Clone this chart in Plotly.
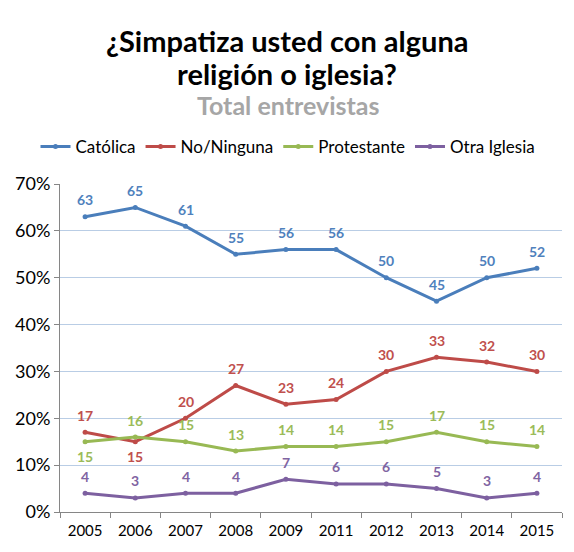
import plotly.graph_objects as go

years = ["2005", "2006", "2007", "2008", "2009", "2011", "2012", "2013", "2014", "2015"]
catolica = [63, 65, 61, 55, 56, 56, 50, 45, 50, 52]
ninguna = [17, 15, 20, 27, 23, 24, 30, 33, 32, 30]
protestante = [15, 16, 15, 13, 14, 14, 15, 17, 15, 14]
otra = [4, 3, 4, 4, 7, 6, 6, 5, 3, 4]

# 1 = label above the point, -1 = below
series = [
    ("Católica", catolica, "#4A7EBB", "#4F81BD", [1] * 10),
    ("No/Ninguna", ninguna, "#BE4B48", "#C0504D", [1, -1] + [1] * 8),
    ("Protestante", protestante, "#98B954", "#9BBB59", [-1] + [1] * 9),
    ("Otra Iglesia", otra, "#7D60A0", "#8064A2", [1] * 10),
]

FONT = "Lato"
OFF = 8  # page offset of the figure in the screenshot
W, H = 574, 552
L, R, T, B = 60 - OFF, 562 - OFF, 184 - OFF, 512 - OFF

fig = go.Figure()
annotations = []
for name, vals, lc, tc, pos in series:
    fig.add_trace(go.Scatter(
        x=years, y=[v / 100 for v in vals], name=name,
        mode="lines+markers",
        line=dict(color=lc, width=3),
        marker=dict(size=5, color=lc),
        hoverinfo="skip",
    ))
    for i, (v, p) in enumerate(zip(vals, pos)):
        annotations.append(dict(
            x=i, y=v / 100, xref="x", yref="y", text=f"<b>{v}</b>", showarrow=False,
            xanchor="center", yanchor="middle", yshift=17 if p > 0 else -15,
            font=dict(family=FONT, size=14, color=tc),
        ))

def py(p):
    return (B - (p - OFF)) / (B - T)

def px(p):
    return ((p - OFF) - L) / (R - L)

annotations += [
    dict(text="<b>¿Simpatiza usted con alguna</b>", x=px(287), y=py(40), xref="paper", yref="paper",
         xanchor="center", yanchor="middle", showarrow=False,
         font=dict(size=29, family=FONT, color="black")),
    dict(text="<b>religión o iglesia?</b>", x=px(287), y=py(73), xref="paper", yref="paper",
         xanchor="center", yanchor="middle", showarrow=False,
         font=dict(size=29, family=FONT, color="black")),
    dict(text="<b>Total entrevistas</b>", x=px(288), y=py(105), xref="paper", yref="paper",
         xanchor="center", yanchor="middle", showarrow=False,
         font=dict(size=25, family=FONT, color="#A6A6A6")),
]

fig.update_layout(
    width=W, height=H,
    margin=dict(l=L, r=W - R, t=T, b=H - B, autoexpand=False),
    paper_bgcolor="white", plot_bgcolor="white",
    font=dict(family=FONT, color="black"),
    showlegend=True,
    legend=dict(orientation="h", xref="container", yref="container", x=(288 - OFF) / W, xanchor="center",
                y=(H - (147 - OFF)) / H, yanchor="middle",
                font=dict(size=17, family=FONT), itemwidth=30, tracegroupgap=0,
                bgcolor="rgba(0,0,0,0)"),
    xaxis=dict(type="category", range=[-0.5, 9.5], tickson="boundaries", ticks="outside",
               ticklen=5, tickcolor="#868686", showline=True, linecolor="#868686",
               showgrid=False, tickfont=dict(size=15, family=FONT), fixedrange=True,
               ticklabelstandoff=5),
    yaxis=dict(range=[0, 0.7], dtick=0.1, tickformat=".0%", showgrid=True,
               gridcolor="#B9CDE5", gridwidth=1, showline=True, linecolor="#868686",
               ticks="outside", ticklen=5, tickcolor="#868686",
               tickfont=dict(size=18, family=FONT), zeroline=False),
    annotations=annotations,
)

fig.write_html("out.html")
